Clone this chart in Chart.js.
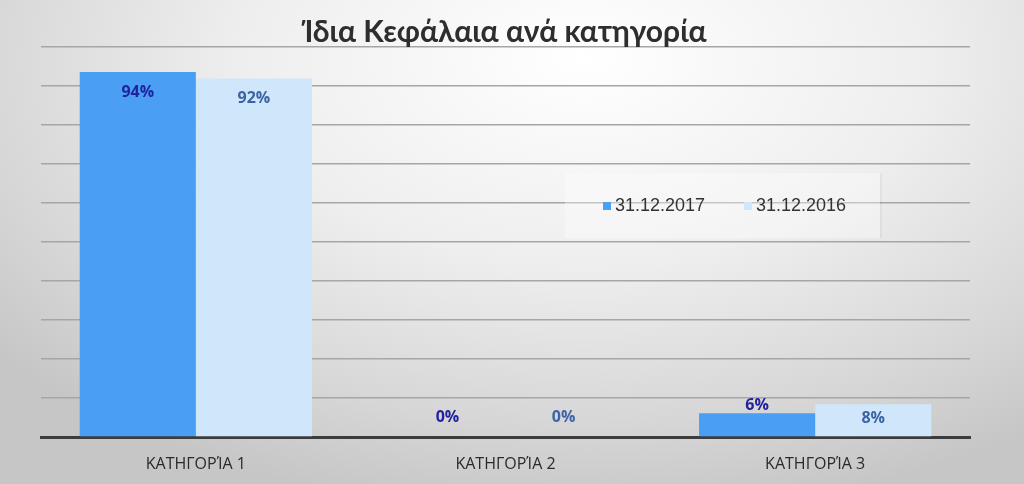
<!DOCTYPE html>
<html>
<head>
<meta charset="utf-8">
<script src="https://cdn.jsdelivr.net/npm/chart.js@4.4.1/dist/chart.umd.min.js"></script>
<style>
  html, body { margin: 0; padding: 0; }
  body {
    width: 1024px; height: 484px; overflow: hidden;
    background: radial-gradient(ellipse 75% 95% at 57% 12%, #ffffff 0%, #eeeeee 45%, #d6d6d6 80%, #c6c6c6 100%);
  }
  #chartBox { width: 1024px; height: 484px; }
</style>
</head>
<body>
<div id="chartBox"><canvas id="myChart" width="1024" height="484"></canvas></div>
<script>
// Data
const categories = ['ΚΑΤΗΓΟΡΊΑ 1', 'ΚΑΤΗΓΟΡΊΑ 2', 'ΚΑΤΗΓΟΡΊΑ 3'];
const seriesNames = ['31.12.2017', '31.12.2016'];
const values2017 = [0.936, 0, 0.061];
const values2016 = [0.919, 0, 0.084];
const yTicks = [0, 0.1, 0.2, 0.3, 0.4, 0.5, 0.6, 0.7, 0.8, 0.9, 1.0];

const barColors = ['#4a9ff5', '#cfe6fb'];
const labelColors = ['#22229e', '#3b64a6'];

// Draw the percentage labels on the bars (Excel-like inside end)
const barLabels = {
    id: 'barLabels',
    afterDatasetsDraw(chart) {
        const ctx = chart.ctx;
        const base = chart.scales.y.getPixelForValue(0);
        ctx.save();
        ctx.font = 'bold 16px "Open Sans"';
        ctx.textAlign = 'center';
        ctx.textBaseline = 'middle';
        chart.data.datasets.forEach((ds, i) => {
            chart.getDatasetMeta(i).data.forEach((bar, j) => {
                const top = bar.y;
                const h = base - top;
                let y;
                if (h >= 60) y = top + 20;
                else if (h >= 30) y = top + h / 2 - 2;
                else if (h > 0) y = top - 8;
                else y = base - 20;
                ctx.fillStyle = labelColors[i];
                ctx.fillText(Math.round(ds.data[j] * 100) + '%', bar.x, y);
            });
        });
        ctx.restore();
    }
};

// Legend box floating inside the plot area
const innerLegend = {
    id: 'innerLegend',
    afterDraw(chart) {
        const ctx = chart.ctx;
        const box = { x: 565, y: 173, w: 315, h: 65 };
        ctx.save();
        ctx.fillStyle = 'rgba(255,255,255,0.35)';
        ctx.fillRect(box.x, box.y, box.w, box.h);
        ctx.fillStyle = 'rgba(0,0,0,0.04)';
        ctx.fillRect(box.x + box.w, box.y, 2, box.h);
        ctx.font = '18px "Liberation Sans"';
        ctx.textBaseline = 'middle';
        const starts = [603, 744];
        chart.data.datasets.forEach((ds, i) => {
            ctx.fillStyle = ds.backgroundColor;
            ctx.fillRect(starts[i], 202, 8, 8);
            ctx.fillStyle = '#333333';
            ctx.fillText(ds.label, starts[i] + 12, 206);
        });
        ctx.restore();
    }
};

const ctx = document.getElementById('myChart').getContext('2d');
window.myChart = new Chart(ctx, {
    type: 'bar',
    data: {
        labels: categories,
        datasets: [
            { label: seriesNames[0], data: values2017, backgroundColor: barColors[0], categoryPercentage: 0.75, barPercentage: 1.0 },
            { label: seriesNames[1], data: values2016, backgroundColor: barColors[1], categoryPercentage: 0.75, barPercentage: 1.0 }
        ]
    },
    options: {
        responsive: false,
        animation: false,
        layout: {
            padding: { left: 41, right: 54, top: 0, bottom: 0 }
        },
        plugins: {
            legend: { display: false },
            tooltip: { enabled: false },
            title: {
                display: true,
                text: 'Ίδια Κεφάλαια ανά κατηγορία',
                color: '#2e2e2e',
                font: { family: 'Lato', size: 30, weight: 'bold', lineHeight: 1 },
                padding: { top: 17, bottom: 0 }
            }
        },
        scales: {
            x: {
                grid: { display: false },
                border: { display: true, color: '#3c3c3c', width: 3 },
                ticks: {
                    color: '#2a2a2a',
                    font: { family: '"Open Sans"', size: 16 },
                    padding: 10
                },
                afterFit(axis) {
                    axis.height = 47;
                }
            },
            y: {
                min: 0,
                max: 1,
                afterBuildTicks(axis) {
                    axis.ticks = yTicks.map(v => ({ value: v }));
                },
                grid: { color: '#a6a6a6', lineWidth: 1.5, drawTicks: false },
                border: { display: false },
                ticks: { display: false }
            }
        }
    },
    plugins: [barLabels, innerLegend]
});
</script>
</body>
</html>
